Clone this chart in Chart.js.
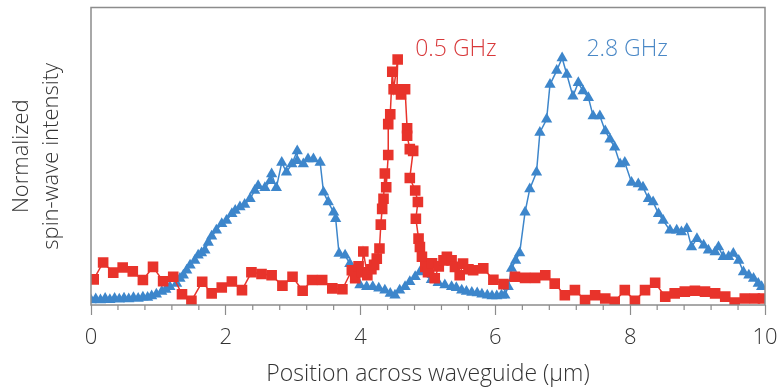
<!DOCTYPE html>
<html>
<head>
<meta charset="utf-8">
<script src="https://cdn.jsdelivr.net/npm/chart.js@4"></script>
<style>
  html, body { margin: 0; padding: 0; background: #fff; }
  #wrap { width: 777px; height: 391px; }
</style>
</head>
<body>
<div id="wrap"><canvas id="spinChart"></canvas></div>
<script>
// 0.5 GHz (red squares)
const redPos = [0.04, 0.18, 0.33, 0.47, 0.62, 0.77, 0.92, 1.07, 1.22, 1.35, 1.49, 1.65, 1.79, 1.94, 2.09, 2.24,
  2.38, 2.53, 2.68, 2.84, 2.99, 3.14, 3.28, 3.43, 3.58, 3.73, 3.87, 3.92, 3.97, 4.02, 4.04, 4.10, 4.16, 4.20,
  4.24, 4.28, 4.30, 4.32, 4.34, 4.36, 4.38, 4.41, 4.41, 4.44, 4.47, 4.49, 4.55, 4.54, 4.60, 4.66, 4.69, 4.69,
  4.73, 4.78, 4.73, 4.81, 4.85, 4.82, 4.86, 4.88, 4.91, 4.96, 5.00, 5.06, 5.10, 5.16, 5.23, 5.28, 5.35, 5.40,
  5.47, 5.52, 5.60, 5.67, 5.82, 5.97, 6.12, 6.29, 6.44, 6.59, 6.74, 6.88, 7.03, 7.18, 7.33, 7.48, 7.63, 7.77,
  7.92, 8.07, 8.22, 8.37, 8.52, 8.66, 8.81, 8.96, 9.11, 9.26, 9.41, 9.55, 9.70, 9.85, 9.97];
const redVal = [0.086, 0.143, 0.109, 0.126, 0.113, 0.084, 0.128, 0.080, 0.095, 0.036, 0.014, 0.078, 0.039, 0.059, 0.079, 0.050,
  0.110, 0.104, 0.100, 0.065, 0.095, 0.048, 0.084, 0.084, 0.056, 0.053, 0.117, 0.090, 0.130, 0.110, 0.180, 0.100, 0.120, 0.135,
  0.156, 0.190, 0.270, 0.323, 0.357, 0.442, 0.396, 0.504, 0.608, 0.641, 0.784, 0.725, 0.825, 0.725, 0.708, 0.725, 0.594, 0.569,
  0.524, 0.518, 0.427, 0.385, 0.346, 0.290, 0.223, 0.195, 0.162, 0.128, 0.110, 0.140, 0.090, 0.130, 0.150, 0.162, 0.150, 0.128,
  0.100, 0.139, 0.120, 0.117, 0.123, 0.085, 0.070, 0.095, 0.091, 0.091, 0.100, 0.072, 0.033, 0.050, 0.017, 0.033, 0.022, 0.011,
  0.050, 0.014, 0.050, 0.075, 0.028, 0.039, 0.045, 0.048, 0.045, 0.039, 0.028, 0.008, 0.022, 0.022, 0.022];

// 2.8 GHz (blue triangles)
const bluePos = [0.00, 0.07, 0.14, 0.21, 0.28, 0.35, 0.42, 0.49, 0.56, 0.63, 0.70, 0.77, 0.84, 0.90, 0.97, 1.05,
  1.11, 1.17, 1.27, 1.32, 1.37, 1.42, 1.47, 1.54, 1.59, 1.64, 1.69, 1.74, 1.79, 1.86, 1.94, 2.01, 2.09, 2.14,
  2.21, 2.28, 2.36, 2.43, 2.48, 2.58, 2.66, 2.68, 2.75, 2.83, 2.90, 2.98, 3.06, 3.06, 3.15, 3.22, 3.30, 3.40,
  3.45, 3.52, 3.60, 3.63, 3.68, 3.77, 3.84, 3.92, 3.99, 4.09, 4.18, 4.27, 4.36, 4.44, 4.51, 4.58, 4.66, 4.73,
  4.81, 4.88, 5.05, 5.15, 5.25, 5.35, 5.42, 5.50, 5.57, 5.65, 5.73, 5.80, 5.88, 5.95, 6.02, 6.09, 6.14, 6.19,
  6.24, 6.30, 6.36, 6.44, 6.51, 6.61, 6.66, 6.76, 6.81, 6.91, 6.99, 7.06, 7.15, 7.23, 7.30, 7.38, 7.45, 7.55,
  7.63, 7.70, 7.77, 7.85, 7.92, 8.02, 8.12, 8.19, 8.27, 8.34, 8.42, 8.49, 8.59, 8.69, 8.76, 8.84, 8.91, 8.99,
  9.09, 9.16, 9.26, 9.31, 9.38, 9.46, 9.53, 9.61, 9.68, 9.76, 9.83, 9.90, 9.95];
const blueVal = [0.017, 0.020, 0.017, 0.022, 0.018, 0.022, 0.019, 0.023, 0.020, 0.024, 0.022, 0.026, 0.025, 0.030, 0.036, 0.045,
  0.052, 0.061, 0.072, 0.089, 0.100, 0.117, 0.134, 0.150, 0.167, 0.175, 0.184, 0.210, 0.231, 0.251, 0.273, 0.284, 0.307, 0.318,
  0.329, 0.338, 0.357, 0.385, 0.401, 0.394, 0.418, 0.440, 0.394, 0.479, 0.446, 0.474, 0.518, 0.485, 0.474, 0.491, 0.491, 0.479,
  0.379, 0.346, 0.312, 0.290, 0.173, 0.167, 0.139, 0.089, 0.067, 0.061, 0.061, 0.056, 0.050, 0.039, 0.033, 0.050, 0.061, 0.078,
  0.095, 0.111, 0.085, 0.075, 0.067, 0.061, 0.058, 0.050, 0.045, 0.042, 0.040, 0.036, 0.033, 0.030, 0.030, 0.033, 0.033, 0.061,
  0.123, 0.150, 0.175, 0.312, 0.390, 0.446, 0.580, 0.624, 0.741, 0.788, 0.830, 0.775, 0.702, 0.747, 0.719, 0.697, 0.635, 0.635,
  0.585, 0.557, 0.530, 0.474, 0.479, 0.412, 0.407, 0.396, 0.357, 0.346, 0.307, 0.284, 0.251, 0.251, 0.245, 0.256, 0.195, 0.223,
  0.201, 0.184, 0.178, 0.195, 0.162, 0.162, 0.173, 0.150, 0.111, 0.100, 0.089, 0.072, 0.061];

// in-plot series labels
const seriesLabels = ['0.5 GHz', '2.8 GHz'];
const labelX = [4.81, 7.35];
const labelY = [0.86, 0.86];

const RED = '#e8332b';
const BLUE = '#3d86cb';
const AXIS = '#8c8c8c';
const FONT = "'Open Sans', 'Lato', sans-serif";

const toPoints = (xs, ys) => xs.map((x, i) => ({ x, y: ys[i] }));
const isMajor = v => Math.abs(v / 2 - Math.round(v / 2)) < 1e-6;

// frame, minor ticks and series labels
const decor = {
  id: 'decor',
  afterDatasetsDraw(chart) {
    const { ctx, chartArea: a, scales: { x, y } } = chart;
    ctx.save();
    ctx.strokeStyle = AXIS;
    ctx.lineWidth = 1.5;
    ctx.strokeRect(a.left, a.top, a.right - a.left, a.bottom - a.top);
    ctx.lineWidth = 1.2;
    ctx.beginPath();
    x.ticks.forEach(t => {
      if (isMajor(t.value)) return;
      const px = x.getPixelForValue(t.value);
      ctx.moveTo(px, a.bottom);
      ctx.lineTo(px, a.bottom + 5);
    });
    ctx.stroke();
    ctx.font = `300 23px ${FONT}`;
    ctx.textBaseline = 'middle';
    seriesLabels.forEach((txt, i) => {
      ctx.fillStyle = i === 0 ? '#d8383a' : '#4a88c6';
      ctx.fillText(txt, x.getPixelForValue(labelX[i]), y.getPixelForValue(labelY[i]));
    });
    ctx.restore();
  }
};

new Chart(document.getElementById('spinChart'), {
  type: 'scatter',
  data: {
    datasets: [
      {
        label: '0.5 GHz',
        data: toPoints(redPos, redVal),
        showLine: true,
        borderColor: RED,
        backgroundColor: RED,
        borderWidth: 1.5,
        pointStyle: 'rect',
        pointRadius: 7.5,
        pointBorderWidth: 0,
        order: 0
      },
      {
        label: '2.8 GHz',
        data: toPoints(bluePos, blueVal),
        showLine: true,
        borderColor: BLUE,
        backgroundColor: BLUE,
        borderWidth: 1.5,
        pointStyle: 'triangle',
        pointRadius: 6.5,
        pointBorderWidth: 0,
        order: 1
      }
    ]
  },
  options: {
    responsive: true,
    maintainAspectRatio: false,
    animation: false,
    events: [],
    layout: { padding: { top: 6, right: 12, bottom: 0, left: 0 } },
    plugins: { legend: { display: false }, tooltip: { enabled: false } },
    scales: {
      x: {
        type: 'linear',
        min: 0,
        max: 10,
        afterFit: s => { s.height = 86; s.paddingLeft = 0; s.paddingRight = 0; },
        border: { display: false },
        grid: {
          drawOnChartArea: false,
          drawTicks: true,
          tickLength: 10,
          tickWidth: 1.2,
          tickColor: c => isMajor(c.tick.value) ? AXIS : 'rgba(0,0,0,0)'
        },
        ticks: {
          stepSize: 0.4,
          autoSkip: false,
          maxRotation: 0,
          padding: 10,
          color: '#333',
          font: { family: FONT, size: 22, weight: 300 },
          callback: v => isMajor(v) ? String(Math.round(v)) : ''
        },
        title: {
          display: true,
          text: 'Position across waveguide (\u03bcm)',
          color: '#333',
          font: { family: FONT, size: 23, weight: 300 },
          padding: { top: 0, bottom: 3 }
        }
      },
      y: {
        min: 0,
        max: 1,
        afterFit: s => { s.width = 91; },
        border: { display: false },
        grid: { display: false },
        ticks: { display: false },
        title: {
          display: true,
          text: ['Normalized', 'spin-wave intensity'],
          color: '#333',
          font: { family: FONT, size: 22, weight: 300, lineHeight: 1.4 },
          padding: { top: 6, bottom: 0 }
        }
      }
    }
  },
  plugins: [decor]
});
</script>
</body>
</html>
